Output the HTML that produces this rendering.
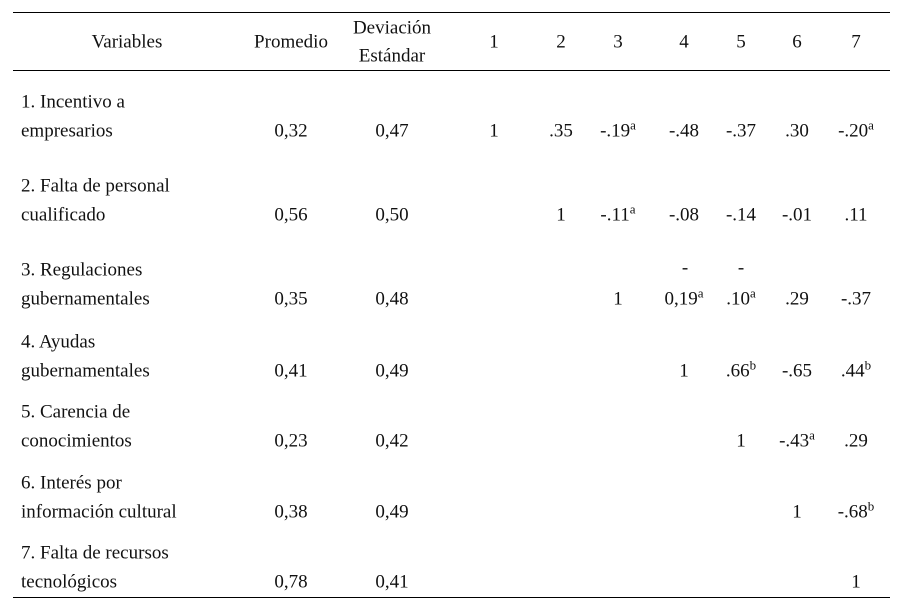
<!DOCTYPE html>
<html><head><meta charset="utf-8"><style>
body{margin:0;width:901px;height:607px;background:#fff;position:relative;font-family:"Liberation Serif","Times New Roman",Times,serif;font-size:19px;color:#111;overflow:hidden}
.l{position:absolute;left:13px;width:877px;height:1px;background:#000}
.t{position:absolute;transform:translate(-50%,-50%);white-space:nowrap;line-height:1}
.v{position:absolute;left:21px;transform:translateY(-50%);white-space:nowrap;line-height:1}
sup{font-size:13px;vertical-align:7px;line-height:0}
</style></head><body>
<div class="l" style="top:12px"></div>
<div class="l" style="top:70px"></div>
<div class="l" style="top:597px"></div>
<div class="t" style="left:127px;top:42px">Variables</div>
<div class="t" style="left:291px;top:42px">Promedio</div>
<div class="t" style="left:392px;top:28px">Deviación</div>
<div class="t" style="left:392px;top:56px">Estándar</div>
<div class="t" style="left:494px;top:42px">1</div>
<div class="t" style="left:561px;top:42px">2</div>
<div class="t" style="left:618px;top:42px">3</div>
<div class="t" style="left:684px;top:42px">4</div>
<div class="t" style="left:741px;top:42px">5</div>
<div class="t" style="left:797px;top:42px">6</div>
<div class="t" style="left:856px;top:42px">7</div>

<div class="v" style="top:102px">1. Incentivo a</div><div class="v" style="top:131px">empresarios</div>
<div class="t" style="left:291px;top:131px">0,32</div><div class="t" style="left:392px;top:131px">0,47</div>
<div class="t" style="left:494px;top:131px">1</div><div class="t" style="left:561px;top:131px">.35</div>
<div class="t" style="left:618px;top:131px">-.19<sup>a</sup></div><div class="t" style="left:684px;top:131px">-.48</div>
<div class="t" style="left:741px;top:131px">-.37</div><div class="t" style="left:797px;top:131px">.30</div>
<div class="t" style="left:856px;top:131px">-.20<sup>a</sup></div>

<div class="v" style="top:186px">2. Falta de personal</div><div class="v" style="top:215px">cualificado</div>
<div class="t" style="left:291px;top:215px">0,56</div><div class="t" style="left:392px;top:215px">0,50</div>
<div class="t" style="left:561px;top:215px">1</div>
<div class="t" style="left:618px;top:215px">-.11<sup>a</sup></div><div class="t" style="left:684px;top:215px">-.08</div>
<div class="t" style="left:741px;top:215px">-.14</div><div class="t" style="left:797px;top:215px">-.01</div>
<div class="t" style="left:856px;top:215px">.11</div>

<div class="v" style="top:270px">3. Regulaciones</div><div class="v" style="top:299px">gubernamentales</div>
<div class="t" style="left:291px;top:299px">0,35</div><div class="t" style="left:392px;top:299px">0,48</div>
<div class="t" style="left:618px;top:299px">1</div>
<div class="t" style="left:685px;top:268px">-</div><div class="t" style="left:741px;top:268px">-</div>
<div class="t" style="left:684px;top:299px">0,19<sup>a</sup></div><div class="t" style="left:741px;top:299px">.10<sup>a</sup></div>
<div class="t" style="left:797px;top:299px">.29</div><div class="t" style="left:856px;top:299px">-.37</div>

<div class="v" style="top:342px">4. Ayudas</div><div class="v" style="top:371px">gubernamentales</div>
<div class="t" style="left:291px;top:371px">0,41</div><div class="t" style="left:392px;top:371px">0,49</div>
<div class="t" style="left:684px;top:371px">1</div><div class="t" style="left:741px;top:371px">.66<sup>b</sup></div>
<div class="t" style="left:797px;top:371px">-.65</div><div class="t" style="left:856px;top:371px">.44<sup>b</sup></div>

<div class="v" style="top:412px">5. Carencia de</div><div class="v" style="top:441px">conocimientos</div>
<div class="t" style="left:291px;top:441px">0,23</div><div class="t" style="left:392px;top:441px">0,42</div>
<div class="t" style="left:741px;top:441px">1</div><div class="t" style="left:797px;top:441px">-.43<sup>a</sup></div>
<div class="t" style="left:856px;top:441px">.29</div>

<div class="v" style="top:483px">6. Interés por</div><div class="v" style="top:512px">información cultural</div>
<div class="t" style="left:291px;top:512px">0,38</div><div class="t" style="left:392px;top:512px">0,49</div>
<div class="t" style="left:797px;top:512px">1</div><div class="t" style="left:856px;top:512px">-.68<sup>b</sup></div>

<div class="v" style="top:553px">7. Falta de recursos</div><div class="v" style="top:582px">tecnológicos</div>
<div class="t" style="left:291px;top:582px">0,78</div><div class="t" style="left:392px;top:582px">0,41</div>
<div class="t" style="left:856px;top:582px">1</div>
</body></html>
